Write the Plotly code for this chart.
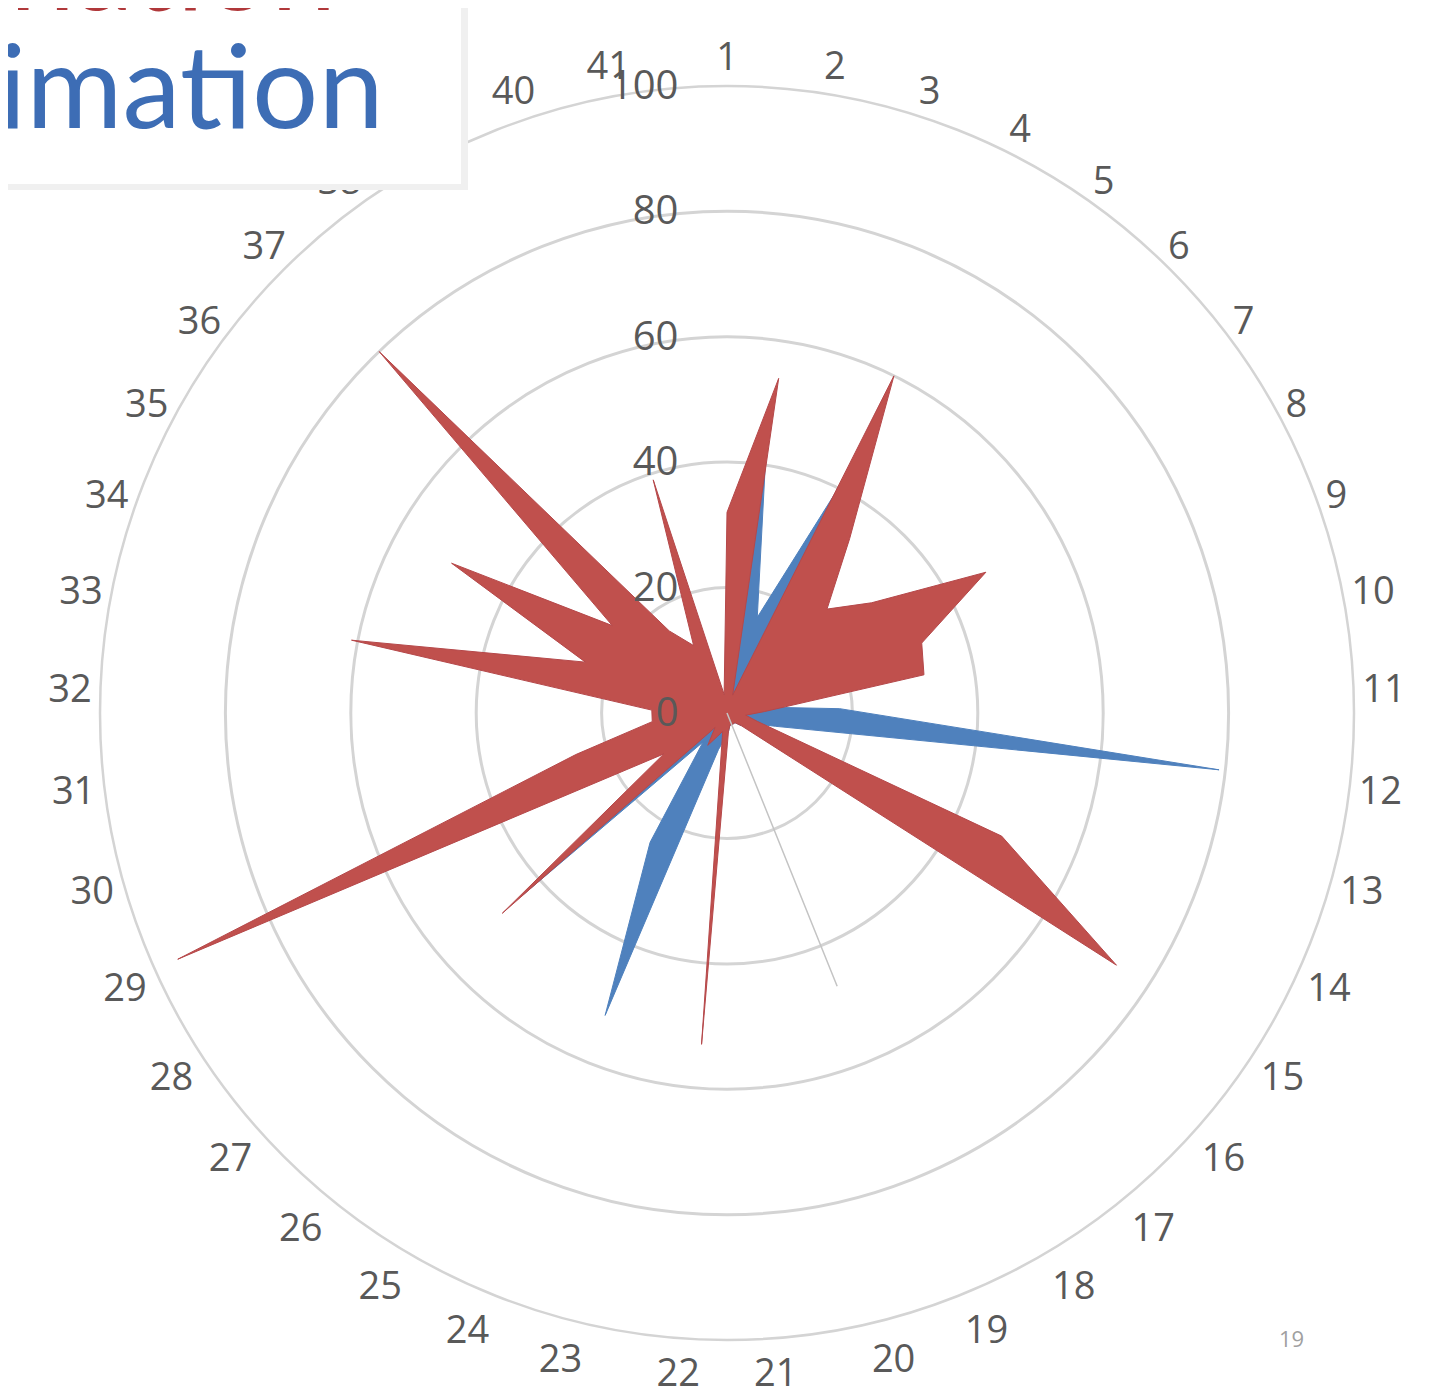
import plotly.graph_objects as go

CATEGORIES = [str(i) for i in range(1, 42)]

RED_VALUES = [32, 54, 3, 60, 34, 23, 29, 47, 33, 32,
              6, 3, 5, 48, 74, 3, 2, 2, 2, 2,
              3, 53, 3, 4, 6, 3, 48, 12, 96, 25,
              12, 12, 61, 24, 50, 23, 80, 16, 12, 39,
              3]

BLUE_VALUES = [3, 40, 16, 40, 5, 4, 3, 3, 3, 5,
               18, 79, 8, 4, 3, 3, 2, 2, 2, 2,
               3, 4, 6, 52, 24, 6, 44, 10, 14, 6,
               4, 3, 3, 3, 3, 3, 3, 3, 3, 3,
               3]

GREY_VALUES = [0] * 18 + [47] + [0] * 22

RADIAL_TICKS = [0, 20, 40, 60, 80, 100]

RED = "#C0504D"
BLUE = "#4F81BD"
GRID = "#D4D4D4"
TEXT = "#595959"
W, H = 1449, 1392


def closed(values):
    return values + values[:1]


theta = closed(CATEGORIES)

fig = go.Figure()
fig.add_trace(go.Scatterpolar(
    r=closed(BLUE_VALUES), theta=theta, mode="lines",
    fill="toself", fillcolor=BLUE, line=dict(color=BLUE, width=1),
    name="Estimation",
))
fig.add_trace(go.Scatterpolar(
    r=closed(RED_VALUES), theta=theta, mode="lines",
    fill="toself", fillcolor=RED, line=dict(color="#B5484A", width=1),
    name="Determination",
))
fig.add_trace(go.Scatterpolar(
    r=closed(GREY_VALUES), theta=theta, mode="lines",
    line=dict(color="#C4C4C4", width=1.5),
    name="",
))

# plotly lands ~8px lower/right than the nominal domain centre
cx, cy, rad = 719, 705, 627
fig.update_layout(
    width=W, height=H,
    paper_bgcolor="white",
    margin=dict(l=0, r=0, t=0, b=0),
    showlegend=False,
    font=dict(family="Open Sans", color=TEXT),
    polar=dict(
        domain=dict(x=[(cx - rad) / W, (cx + rad) / W],
                    y=[(H - cy - rad) / H, (H - cy + rad) / H]),
        bgcolor="white",
        gridshape="circular",
        radialaxis=dict(
            range=[0, 100], tickvals=RADIAL_TICKS,
            angle=90, tickangle=90, side="counterclockwise",
            showline=False,
            ticks="outside", ticklen=34, tickcolor="rgba(0,0,0,0)",
            gridcolor=GRID, gridwidth=2.5,
            tickfont=dict(size=40, color=TEXT),
        ),
        angularaxis=dict(
            direction="clockwise", rotation=90,
            showgrid=False, showline=True,
            linecolor=GRID, linewidth=2.5,
            ticks="",
            tickfont=dict(size=38, color=TEXT),
        ),
    ),
)

# partially visible legend box in the top-left corner
fig.add_shape(type="rect", xref="paper", yref="paper",
              x0=-0.01, x1=460 / W, y0=1 - 182 / H, y1=1.01,
              fillcolor="#F0F0F0", line=dict(width=0), layer="above")
fig.add_shape(type="rect", xref="paper", yref="paper",
              x0=-0.01, x1=453 / W, y0=1 - 176 / H, y1=1.01,
              fillcolor="white", line=dict(width=0), layer="above")
fig.add_annotation(text="Estimation", xref="paper", yref="paper",
                   x=378 / W, y=1 - 147 / H, xanchor="right", yanchor="bottom",
                   showarrow=False,
                   font=dict(family="Lato", size=117, color="#3D6DB5"))
fig.add_annotation(text="Determination", xref="paper", yref="paper",
                   x=330 / W, y=1 - 29 / H, xanchor="right", yanchor="bottom",
                   showarrow=False,
                   font=dict(family="Lato", size=117, color="#B0383A"))
fig.add_annotation(text="19", xref="paper", yref="paper",
                   x=1298 / W, y=1 - 1347 / H, showarrow=False,
                   font=dict(size=22, color="#A0A0A0"))

fig.write_html("out.html")
